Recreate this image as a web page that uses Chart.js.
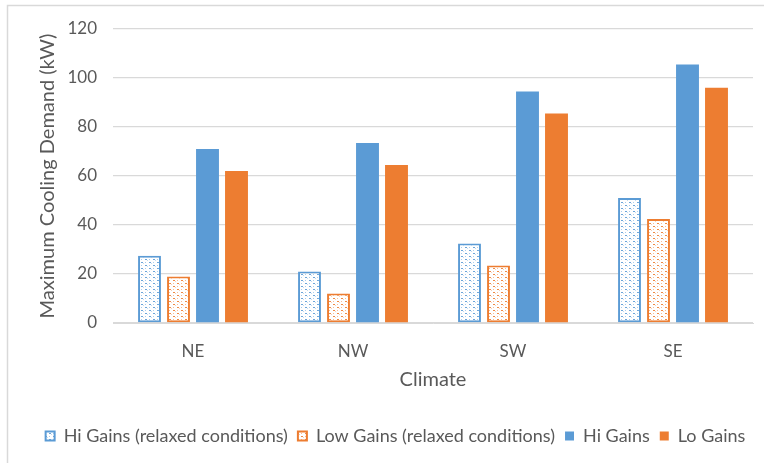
<!DOCTYPE html>
<html>
<head>
<meta charset="utf-8">
<script src="https://cdn.jsdelivr.net/npm/chart.js@4.4.1/dist/chart.umd.min.js"></script>
<style>
  html, body { margin: 0; padding: 0; background: #ffffff; }
  #wrap { width: 764px; height: 463px; }
</style>
</head>
<body>
<div id="wrap"><canvas id="c" width="764" height="463"></canvas></div>
<script>
// Climate zones along the x axis
const categories = ['NE', 'NW', 'SW', 'SE'];

// Maximum cooling demand per climate (kW)
const hiGainsRelaxed = [27.5, 21, 32.5, 51];
const lowGainsRelaxed = [19, 12, 23.5, 42.5];
const hiGains = [71, 73.5, 94.5, 105.5];
const loGains = [62, 64.5, 85.5, 96];

const seriesNames = [
  'Hi Gains (relaxed conditions)',
  'Low Gains (relaxed conditions)',
  'Hi Gains',
  'Lo Gains'
];

const yTicks = [0, 20, 40, 60, 80, 100, 120];

const BLUE = '#5B9BD5';
const ORANGE = '#ED7D31';
const TEXT = '#595959';
const GRID = '#D9D9D9';
const FONT = 'Lato, "Noto Sans", sans-serif';

// Small dotted fill used for the "relaxed conditions" bars
function dotPattern(color) {
  const tile = document.createElement('canvas');
  tile.width = 8;
  tile.height = 6;
  const g = tile.getContext('2d');
  g.fillStyle = '#ffffff';
  g.fillRect(0, 0, 8, 6);
  g.fillStyle = color;
  g.globalAlpha = 0.9;
  g.fillRect(1, 1, 2, 1);
  g.fillRect(5, 4, 2, 1);
  g.globalAlpha = 0.5;
  g.fillRect(5, 1, 1, 1);
  g.fillRect(1, 4, 1, 1);
  g.globalAlpha = 0.35;
  g.fillRect(3, 2, 1, 1);
  g.fillRect(7, 5, 1, 1);
  return g.createPattern(tile, 'repeat');
}

const ctx = document.getElementById('c').getContext('2d');

// Light frame around the chart, and a white page behind it
const framePlugin = {
  id: 'frame',
  beforeDraw(chart) {
    const c = chart.ctx;
    c.save();
    c.fillStyle = '#ffffff';
    c.fillRect(0, 0, chart.width, chart.height);
    c.strokeStyle = GRID;
    c.lineWidth = 1.5;
    c.strokeRect(7.5, 5.5, chart.width + 20, chart.height + 20);
    c.restore();
  }
};

// Nudge the legend row so it sits under the plot, slightly right of page centre
const legendShift = {
  id: 'legendShift',
  afterLayout(chart) {
    const lg = chart.legend;
    if (lg) { lg.left += 15; lg.right += 15; }
  }
};

new Chart(ctx, {
  type: 'bar',
  data: {
    labels: categories,
    datasets: [
      {
        label: seriesNames[0],
        data: hiGainsRelaxed,
        backgroundColor: dotPattern(BLUE),
        borderColor: BLUE,
        borderWidth: 2,
        borderSkipped: false
      },
      {
        label: seriesNames[1],
        data: lowGainsRelaxed,
        backgroundColor: dotPattern(ORANGE),
        borderColor: ORANGE,
        borderWidth: 2,
        borderSkipped: false
      },
      {
        label: seriesNames[2],
        data: hiGains,
        backgroundColor: BLUE,
        borderWidth: 0
      },
      {
        label: seriesNames[3],
        data: loGains,
        backgroundColor: ORANGE,
        borderWidth: 0
      }
    ]
  },
  options: {
    responsive: false,
    animation: false,
    devicePixelRatio: 1,
    categoryPercentage: 0.725,
    barPercentage: 0.79,
    layout: { padding: { top: 29, left: 8, right: 11, bottom: 8 } },
    plugins: {
      tooltip: { enabled: false },
      legend: {
        position: 'bottom',
        labels: {
          boxWidth: 9,
          boxHeight: 9,
          padding: 10,
          color: TEXT,
          font: { family: FONT, size: 18 }
        }
      }
    },
    scales: {
      x: {
        grid: { display: false },
        border: { display: true, color: GRID, width: 1 },
        ticks: {
          color: TEXT,
          padding: 10,
          font: { family: FONT, size: 17 }
        },
        title: {
          display: true,
          text: 'Climate',
          color: TEXT,
          font: { family: FONT, size: 20 },
          padding: { top: 0, bottom: 25 }
        },
        afterFit(scale) { scale.height = 94; }
      },
      y: {
        min: 0,
        max: 120,
        afterBuildTicks(scale) { scale.ticks = yTicks.map(v => ({ value: v })); },
        grid: { color: GRID, lineWidth: 1.3, drawTicks: false },
        border: { display: false },
        ticks: {
          color: TEXT,
          padding: 16,
          font: { family: FONT, size: 17 }
        },
        title: {
          display: true,
          text: 'Maximum Cooling Demand (kW)',
          color: TEXT,
          font: { family: FONT, size: 20 },
          padding: { top: 28, bottom: 0 }
        },
        afterFit(scale) { scale.width = 105; }
      }
    }
  },
  plugins: [framePlugin, legendShift]
});
</script>
</body>
</html>
